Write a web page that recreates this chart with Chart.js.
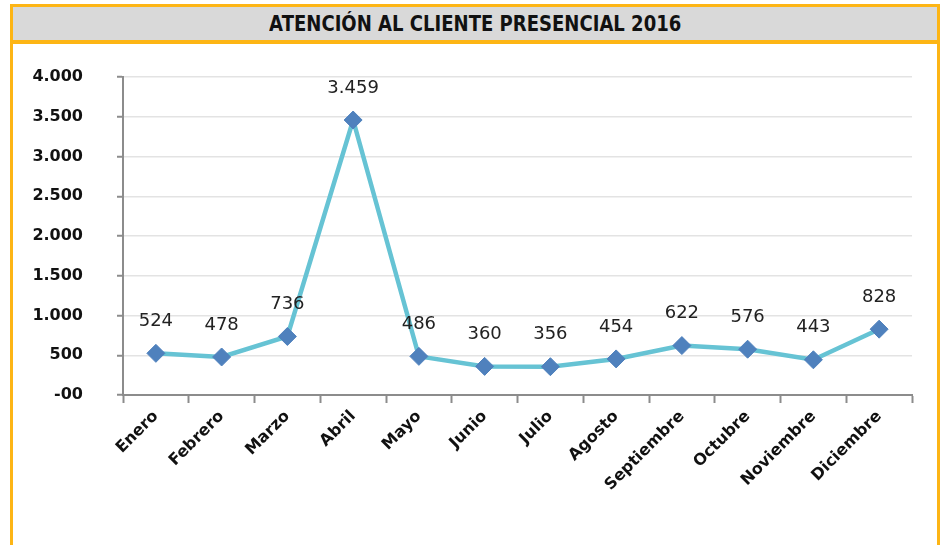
<!DOCTYPE html>
<html>
<head>
<meta charset="utf-8">
<script src="https://cdn.jsdelivr.net/npm/chart.js@4"></script>
<style>
  body { margin: 0; background: #fff; }
  #wrap { position: relative; width: 942px; height: 545px; overflow: hidden; }
  #frame {
    position: absolute; left: 10px; top: 4px; width: 924px; height: 560px;
    border: 3px solid #FDB515; box-sizing: content-box;
  }
  #titulo {
    position: absolute; left: 13px; top: 7px; width: 924px; height: 33px;
    background: #D9D9D9; border-bottom: 4px solid #FDB515;
    text-align: center; line-height: 38px;
  }
  #titulo span {
    display: inline-block; transform: scaleX(0.88);
    font: bold 20.5px "DejaVu Sans", sans-serif; color: #111;
  }
  canvas { position: absolute; left: 0; top: 0; }
</style>
</head>
<body>
<div id="wrap">
  <div id="frame"></div>
  <div id="titulo"><span>ATENCIÓN AL CLIENTE PRESENCIAL 2016</span></div>
  <canvas id="grafico" width="942" height="545"></canvas>
</div>
<script>
// datos
const meses = ['Enero', 'Febrero', 'Marzo', 'Abril', 'Mayo', 'Junio', 'Julio',
  'Agosto', 'Septiembre', 'Octubre', 'Noviembre', 'Diciembre'];
const atenciones = [524, 478, 736, 3459, 486, 360, 356, 454, 622, 576, 443, 828];
const yMax = 4000;
const yPaso = 500;

// formato con punto de miles
function formatar(n) {
    return String(n).replace(/\B(?=(\d{3})+(?!\d))/g, '.');
}

// etiquetas encima de cada punto
const etiquetas = {
    id: 'etiquetas',
    afterDatasetsDraw(chart) {
        const ctx = chart.ctx;
        const meta = chart.getDatasetMeta(0);
        ctx.save();
        ctx.font = '18px "DejaVu Sans", sans-serif';
        ctx.fillStyle = '#222';
        ctx.textAlign = 'center';
        ctx.textBaseline = 'middle';
        meta.data.forEach((p, i) => {
            ctx.fillText(formatar(atenciones[i]), p.x, p.y - 32);
        });
        ctx.restore();
    }
};

const fuenteEjes = { family: '"DejaVu Sans", sans-serif', size: 16, weight: 'bold' };

new Chart(document.getElementById('grafico'), {
    type: 'line',
    data: {
        labels: meses,
        datasets: [{
            data: atenciones,
            borderColor: '#66C3D4',
            borderWidth: 4.5,
            pointStyle: 'rectRot',
            pointRadius: 9,
            pointBackgroundColor: '#4F81BD',
            pointBorderColor: '#4F81BD',
            pointBorderWidth: 1,
            tension: 0
        }]
    },
    options: {
        responsive: false,
        animation: false,
        plugins: { legend: { display: false }, tooltip: { enabled: false } },
        layout: { padding: { left: 0, top: 77, right: 30, bottom: 0 } },
        scales: {
            x: {
                offset: true,
                grid: { offset: true, drawOnChartArea: false, tickLength: 8, tickColor: '#8C8C8C', tickWidth: 2 },
                border: { color: '#8C8C8C', width: 2 },
                ticks: {
                    autoSkip: false, minRotation: 45, maxRotation: 45,
                    font: fuenteEjes, color: '#111', padding: 4
                },
                afterFit(scale) { scale.height = 150; }
            },
            y: {
                min: 0, max: yMax,
                grid: { color: '#E3E3E3', lineWidth: 1.5, tickLength: 6, tickColor: '#8C8C8C', tickWidth: 2 },
                border: { color: '#8C8C8C', width: 2 },
                ticks: {
                    stepSize: yPaso, font: fuenteEjes, color: '#111', padding: 34,
                    callback: v => v === 0 ? '-00' : formatar(v)
                },
                afterFit(scale) { scale.width = 123; }
            }
        }
    },
    plugins: [etiquetas]
});
</script>
</body>
</html>
